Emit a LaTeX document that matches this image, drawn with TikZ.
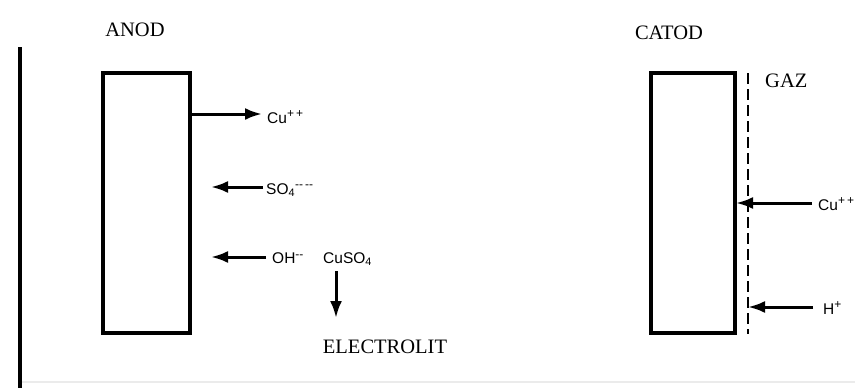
\documentclass[tikz,border=0pt]{standalone}
\usepackage{fontspec}
\setmainfont{Liberation Serif}
\newfontfamily\ionfont{Liberation Sans}
\usetikzlibrary{arrows.meta}
\tikzset{
  plate/.style={draw, line width=3.2pt, inner sep=0pt},
  ion/.style={font=\ionfont\fontsize{15.5}{17}\selectfont, inner sep=0pt, anchor=west},
  lbl/.style={font=\fontsize{20.5}{23}\selectfont, inner sep=0pt},
  flow/.style={line width=3pt, -{Latex[length=17pt,width=12pt]}},
  wall/.style={line width=3.2pt},
}
\newcommand{\ionsup}[1]{\textsuperscript{\fontsize{12}{12}\selectfont #1}}
\begin{document}
\begin{tikzpicture}[x=1pt,y=-1pt]
\useasboundingbox (0,0) rectangle (855,388);
% container
\coordinate (wt) at (20,47);
\coordinate (wb) at (20,388);
\coordinate (br) at (855,382);
\coordinate (bl) at (22,382);
\draw[wall] (wt) -- (wb);
\draw[black!8, line width=1.5pt] (bl) -- (br);
% anode
\node[plate, minimum width=87pt, minimum height=260pt] (anode) at (146.5,203) {};
\node[lbl] (anodl) at (135,30) {ANOD};
% cathode
\node[plate, minimum width=84pt, minimum height=260pt] (catode) at (693,203) {};
\node[lbl] (catodl) at (669,33) {CATOD};
\coordinate (gt) at (748,73);
\coordinate (gb) at (748,334);
\draw[line width=2.8pt, dash pattern=on 11pt off 5pt] (gt) -- (gb);
\node[lbl, anchor=west] (gaz) at (765,81) {GAZ};
% anode ions
\node[ion] (cu1) at (267,117) {Cu\ionsup{+\,+}};
\coordinate (cu1s) at (190,114);
\draw[flow] (cu1s) -- ([xshift=-5pt]cu1.west |- cu1s);
\node[ion] (so4) at (266,190) {SO\textsubscript{4}\ionsup{--\,--}};
\coordinate (so4t) at (211,187);
\draw[flow] (so4.west |- so4t) ++(-3,0) coordinate (so4s) -- (so4t);
\node[ion] (oh) at (272,258) {OH\ionsup{--}};
\coordinate (oht) at (211,257);
\draw[flow] (oh.west |- oht) ++(-6,0) coordinate (ohs) -- (oht);
% electrolyte
\node[ion] (cuso4) at (323,259) {CuSO\textsubscript{4}};
\node[lbl] (elec) at (385,347) {ELECTROLIT};
\coordinate (ds) at (336,271);
\coordinate (dt) at (336,318);
\draw[flow] (ds) -- (dt);
% cathode ions
\node[ion] (cu2) at (818,204) {Cu\ionsup{+\,+}};
\coordinate (cu2t) at (736,203);
\draw[flow] ([xshift=-6pt]cu2.west |- cu2t) -- (cu2t);
\node[ion] (hp) at (823,308) {H\ionsup{+}};
\coordinate (hpt) at (748,307);
\draw[flow] ([xshift=-10pt]hp.west |- hpt) -- (hpt);
\end{tikzpicture}
\end{document}
